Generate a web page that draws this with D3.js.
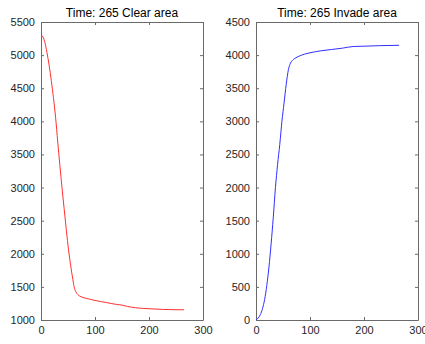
<!DOCTYPE html>
<html><head><meta charset="utf-8">
<script src="https://cdn.jsdelivr.net/npm/d3@7"></script>
<style>body{margin:0;background:#fff}</style>
</head><body>
<script>
const clearTime = [1,4,7,11,15,19,23,27,31,35,39,43,47,51,55,59,62,65,68,72,80,90,100,120,140,150,160,175,200,225,250,265];
const clearArea = [5300,5270,5200,5040,4850,4620,4360,4060,3690,3330,2990,2670,2350,2060,1820,1610,1480,1420,1385,1360,1335,1315,1295,1265,1235,1225,1205,1185,1170,1160,1155,1155];
const invadeTime = [0,4,8,12,16,20,24,28,32,36,40,44,48,52,56,60,64,68,72,80,90,100,120,140,160,180,200,230,265];
const invadeArea = [0,30,80,170,310,520,800,1150,1550,2000,2350,2650,3000,3280,3560,3780,3880,3925,3950,3985,4015,4035,4065,4085,4105,4130,4135,4143,4148];
const xTicks = [0,100,200,300];
const clearYTicks = [1000,1500,2000,2500,3000,3500,4000,4500,5000,5500];
const invadeYTicks = [0,500,1000,1500,2000,2500,3000,3500,4000,4500];
const titles = ["Time: 265 Clear area","Time: 265 Invade area"];

const W=425,H=344;
const svg=d3.select("body").append("svg").attr("width",W).attr("height",H);
const axisCol="#6a6a6a", textCol="#262626";

function panel(x0,x1,y0,y1,xs,ys,yTicks,yDom,color,title){
  const x=d3.scaleLinear().domain([0,300]).range([x0,x1]);
  const y=d3.scaleLinear().domain(yDom).range([y1,y0]);
  const g=svg.append("g");
  const style=(sel)=>{sel.selectAll("path,line").attr("stroke",axisCol);
    sel.selectAll("text").attr("fill",textCol).style("font-family","Liberation Sans, Arial, sans-serif").style("font-size","11px");};
  g.append("g").attr("transform",`translate(0,${y1})`).call(d3.axisBottom(x).tickValues(xTicks).tickSize(-3).tickSizeOuter(0).tickPadding(6)).call(style);
  g.append("g").attr("transform",`translate(0,${y0})`).call(d3.axisTop(x).tickValues(xTicks).tickSize(-3).tickSizeOuter(0).tickFormat("")).call(style);
  g.append("g").attr("transform",`translate(${x0},0)`).call(d3.axisLeft(y).tickValues(yTicks).tickSize(-3).tickSizeOuter(0).tickPadding(6).tickFormat(d3.format("d"))).call(style);
  g.append("g").attr("transform",`translate(${x1},0)`).call(d3.axisRight(y).tickValues(yTicks).tickSize(-3).tickSizeOuter(0).tickFormat("")).call(style);
  g.selectAll(".domain").attr("stroke",axisCol);
  const line=d3.line().curve(d3.curveMonotoneX).x((d,i)=>x(xs[i])).y(d=>y(d));
  g.append("path").datum(ys).attr("d",line).attr("fill","none").attr("stroke",color).attr("stroke-width",1);
  g.append("text").attr("x",(x0+x1)/2).attr("y",y0-5).attr("text-anchor","middle")
    .style("font-family","Liberation Sans, Arial, sans-serif").style("font-size","12px").attr("fill","#000").text(title);
}
panel(41,203,22,320,clearTime,clearArea,clearYTicks,[1000,5500],"#ff3030",titles[0]);
panel(256,418,22,320,invadeTime,invadeArea,invadeYTicks,[0,4500],"#3030ff",titles[1]);
</script>
</body></html>
